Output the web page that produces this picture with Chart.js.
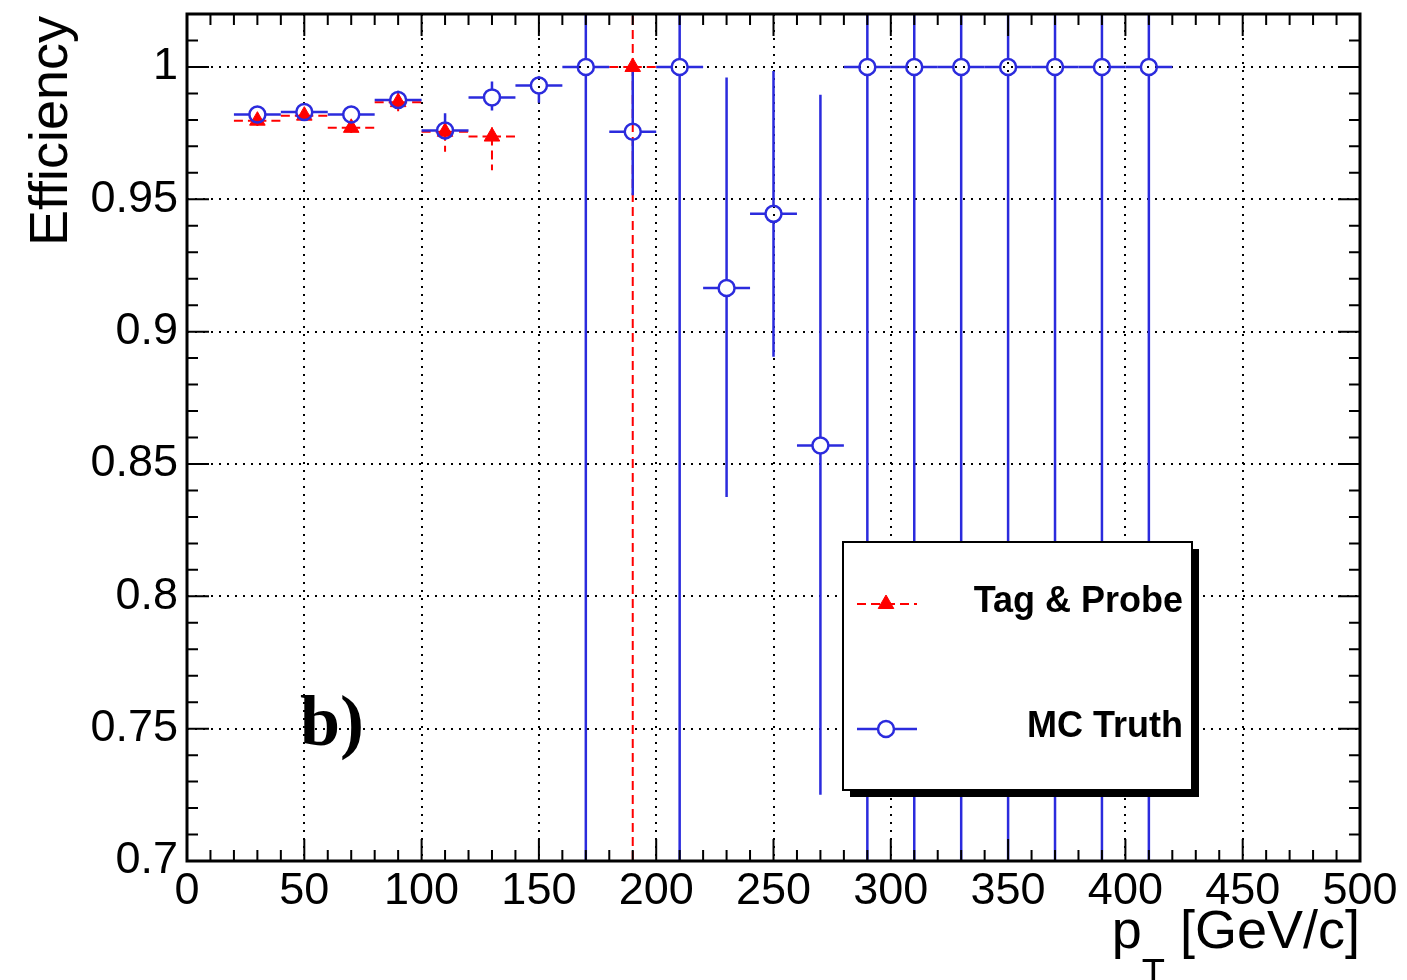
<!DOCTYPE html>
<html>
<head>
<meta charset="utf-8">
<script src="https://cdn.jsdelivr.net/npm/chart.js@4.4.0/dist/chart.umd.min.js"></script>
<style>
  html, body { margin: 0; padding: 0; background: #fff; }
  #wrap { width: 1407px; height: 980px; position: relative; }
</style>
</head>
<body>
<div id="wrap"><canvas id="chart" width="1407" height="980"></canvas></div>
<script>
// ---------- data ----------
const binHalfWidth = 10;
const mcBins = [30, 50, 70, 90, 110, 130, 150, 170, 190, 210, 230, 250, 270, 290, 310, 330, 350, 370, 390, 410];
const mcEff = [0.982, 0.983, 0.982, 0.9875, 0.976, 0.9885, 0.993, 1.0, 0.9755, 1.0, 0.9165, 0.9445, 0.857, 1.0, 1.0, 1.0, 1.0, 1.0, 1.0, 1.0];
const mcErrLo = [0.0015, 0.0015, 0.0015, 0.003, 0.0035, 0.005, 0.0065, 0.5, 0.024, 0.5, 0.079, 0.054, 0.132, 0.5, 0.5, 0.5, 0.5, 0.5, 0.5, 0.5];
const mcErrHi = [0.0015, 0.0015, 0.0015, 0.0035, 0.0065, 0.006, 0.0035, 0.5, 0.0245, 0.5, 0.0795, 0.054, 0.1325, 0.5, 0.5, 0.5, 0.5, 0.5, 0.5, 0.5];

const tpBins = [30, 50, 70, 90, 110, 130, 190];
const tpEff = [0.9797, 0.9816, 0.977, 0.9867, 0.9755, 0.9737, 1.0];
const tpErrLo = [0.002, 0.002, 0.002, 0.004, 0.0075, 0.0127, 0.5];
const tpErrHi = [0.002, 0.002, 0.002, 0.004, 0.0065, 0.0053, 0.5];

const xTicks = [0, 50, 100, 150, 200, 250, 300, 350, 400, 450, 500];
const yTicks = [0.7, 0.75, 0.8, 0.85, 0.9, 0.95, 1];
const seriesNames = ["Tag & Probe", "MC Truth"];

const RED = "#ff0000";
const BLUE = "#2b2bdd";
const SANS = "'Liberation Sans', Arial, sans-serif";

// ---------- plugins ----------
const errorBars = {
  id: "errorBars",
  beforeDatasetsDraw(chart) {
    const { ctx, chartArea: a, scales: { x, y } } = chart;
    ctx.save();
    ctx.beginPath();
    ctx.rect(a.left, a.top, a.width, a.height);
    ctx.clip();
    chart.data.datasets.forEach((ds) => {
      ctx.strokeStyle = ds.borderColor;
      ctx.lineWidth = ds.errWidth;
      ctx.setLineDash(ds.errDash);
      const gap = ds.errGap;
      ds.data.forEach((p, i) => {
        const px = x.getPixelForValue(p.x);
        const py = y.getPixelForValue(p.y);
        const xl = x.getPixelForValue(p.x - binHalfWidth);
        const xr = x.getPixelForValue(p.x + binHalfWidth);
        const yl = y.getPixelForValue(p.y - ds.errLo[i]);
        const yh = y.getPixelForValue(p.y + ds.errHi[i]);
        ctx.beginPath();
        ctx.moveTo(xl, py); ctx.lineTo(px - gap, py);
        ctx.moveTo(px + gap, py); ctx.lineTo(xr, py);
        if (yh < py - gap) { ctx.moveTo(px, py - gap); ctx.lineTo(px, yh); }
        if (yl > py + gap) { ctx.moveTo(px, py + gap); ctx.lineTo(px, yl); }
        ctx.stroke();
      });
    });
    ctx.restore();
  },
};

const frameAndTicks = {
  id: "frameAndTicks",
  afterDraw(chart) {
    const { ctx, chartArea: a, scales: { x, y } } = chart;
    ctx.save();
    ctx.strokeStyle = "#000";
    ctx.lineWidth = 2;
    ctx.beginPath();
    for (let v = 0; v <= 500; v += 10) {
      const px = x.getPixelForValue(v);
      const len = v % 50 === 0 ? 22 : 11;
      ctx.moveTo(px, a.bottom); ctx.lineTo(px, a.bottom - len);
      ctx.moveTo(px, a.top); ctx.lineTo(px, a.top + len);
    }
    for (let k = 70; k <= 102; k++) {
      const py = y.getPixelForValue(k / 100);
      const len = k % 5 === 0 ? 22 : 11;
      ctx.moveTo(a.left, py); ctx.lineTo(a.left + len, py);
      ctx.moveTo(a.right, py); ctx.lineTo(a.right - len, py);
    }
    ctx.stroke();
    ctx.lineWidth = 3;
    ctx.strokeRect(a.left, a.top, a.width, a.height);

    // axis titles
    ctx.fillStyle = "#000";
    ctx.font = "54px " + SANS;
    ctx.save();
    ctx.translate(67, a.top + 2);
    ctx.rotate(-Math.PI / 2);
    ctx.textAlign = "right";
    ctx.textBaseline = "alphabetic";
    ctx.fillText("Efficiency", 0, 0);
    ctx.restore();

    const rest = " [GeV/c]";
    ctx.textBaseline = "alphabetic";
    ctx.textAlign = "left";
    const wRest = ctx.measureText(rest).width;
    const wP = ctx.measureText("p").width;
    ctx.font = "38px " + SANS;
    const wT = ctx.measureText("T").width;
    let xs = a.right - wRest - wT - wP;
    ctx.font = "54px " + SANS;
    ctx.fillText("p", xs, 948);
    ctx.font = "38px " + SANS;
    ctx.fillText("T", xs + wP, 986);
    ctx.font = "54px " + SANS;
    ctx.fillText(rest, xs + wP + wT, 948);

    // panel label
    ctx.font = "bold 72px 'Liberation Serif', 'Times New Roman', serif";
    ctx.fillText("b)", 300, 745);

    // legend box
    const bx = 843, by = 542, bw = 349, bh = 248;
    ctx.fillStyle = "#000";
    ctx.fillRect(bx + 7, by + 7, bw, bh);
    ctx.fillStyle = "#fff";
    ctx.fillRect(bx, by, bw, bh);
    ctx.lineWidth = 2;
    ctx.strokeStyle = "#000";
    ctx.strokeRect(bx, by, bw, bh);

    const rows = [
      { ds: chart.data.datasets[0], y: 604 },
      { ds: chart.data.datasets[1], y: 729 },
    ];
    rows.forEach((r, i) => {
      const ds = r.ds;
      ctx.strokeStyle = ds.borderColor;
      ctx.lineWidth = ds.errWidth;
      ctx.setLineDash(ds.errDash);
      ctx.beginPath();
      const gap = ds.errGap;
      ctx.moveTo(857, r.y); ctx.lineTo(886 - gap, r.y);
      ctx.moveTo(886 + gap, r.y); ctx.lineTo(917, r.y);
      ctx.stroke();
      ctx.setLineDash([]);
      ctx.fillStyle = ds.pointBackgroundColor;
      ctx.strokeStyle = ds.borderColor;
      ctx.lineWidth = ds.pointBorderWidth;
      Chart.helpers.drawPoint(ctx, {
        pointStyle: ds.pointStyle,
        radius: ds.pointRadius,
        borderWidth: ds.pointBorderWidth,
        rotation: 0,
      }, 886, r.y);
      ctx.fillStyle = "#000";
      ctx.font = "bold 36px " + SANS;
      ctx.textAlign = "right";
      ctx.textBaseline = "middle";
      ctx.fillText(seriesNames[i], 1183, r.y - 2);
    });
    ctx.restore();
  },
};

// ---------- chart ----------
const ctx = document.getElementById("chart").getContext("2d");
new Chart(ctx, {
  type: "scatter",
  data: {
    datasets: [
      {
        label: seriesNames[0],
        data: tpBins.map((b, i) => ({ x: b, y: tpEff[i] })),
        errLo: tpErrLo,
        errHi: tpErrHi,
        errWidth: 2,
        errDash: [9, 5],
        errGap: 0,
        borderColor: RED,
        backgroundColor: RED,
        pointBackgroundColor: RED,
        pointStyle: "triangle",
        pointRadius: 9,
        pointBorderWidth: 1,
        showLine: false,
        order: 2,
      },
      {
        label: seriesNames[1],
        data: mcBins.map((b, i) => ({ x: b, y: mcEff[i] })),
        errLo: mcErrLo,
        errHi: mcErrHi,
        errWidth: 2.5,
        errDash: [],
        errGap: 8,
        borderColor: BLUE,
        backgroundColor: "rgba(0,0,0,0)",
        pointBackgroundColor: "rgba(0,0,0,0)",
        pointStyle: "circle",
        pointRadius: 8,
        pointBorderWidth: 2.5,
        showLine: false,
        order: 1,
      },
    ],
  },
  options: {
    responsive: false,
    animation: false,
    devicePixelRatio: 1,
    layout: { padding: { left: 0, top: 14, right: 47, bottom: 0 } },
    plugins: { legend: { display: false }, tooltip: { enabled: false } },
    scales: {
      x: {
        type: "linear",
        min: 0,
        max: 500,
        afterBuildTicks: (s) => { s.ticks = xTicks.map((v) => ({ value: v })); },
        afterFit: (s) => { s.height = 119; s.paddingLeft = 0; s.paddingRight = 0; },
        ticks: {
          autoSkip: false,
          maxRotation: 0,
          padding: 4,
          color: "#000",
          font: { family: SANS, size: 45 },
          callback: (v) => String(v),
        },
        grid: { color: "#000", lineWidth: 2, drawTicks: false },
        border: { display: false, dash: [2, 6] },
      },
      y: {
        type: "linear",
        min: 0.7,
        max: 1.02,
        afterBuildTicks: (s) => { s.ticks = yTicks.map((v) => ({ value: v })); },
        afterFit: (s) => { s.width = 187; s.paddingTop = 0; s.paddingBottom = 0; },
        ticks: {
          autoSkip: false,
          padding: 9,
          color: "#000",
          font: { family: SANS, size: 45 },
          callback: (v) => String(v),
        },
        grid: { color: "#000", lineWidth: 2, drawTicks: false },
        border: { display: false, dash: [2, 6] },
      },
    },
  },
  plugins: [errorBars, frameAndTicks],
});
</script>
</body>
</html>
